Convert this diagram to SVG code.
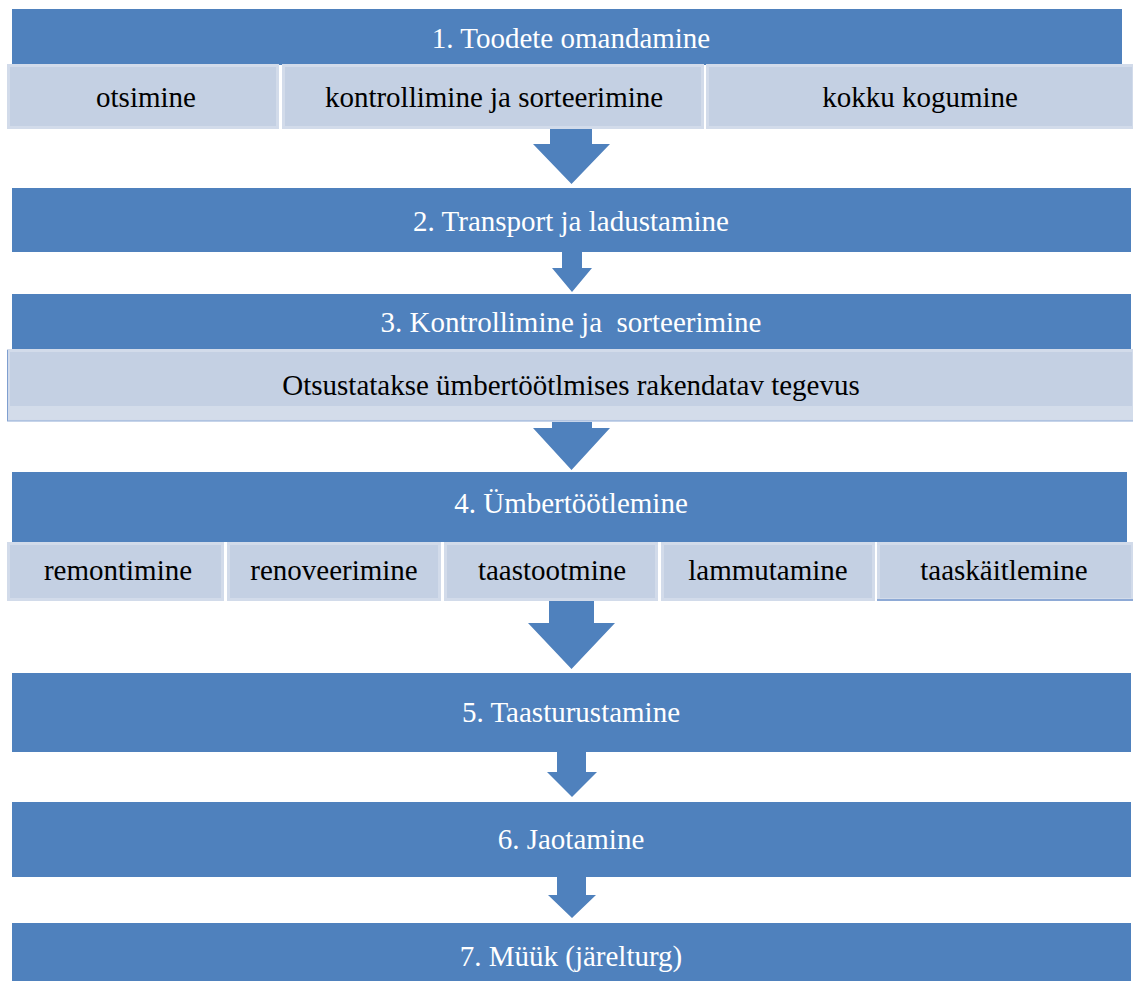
<svg xmlns="http://www.w3.org/2000/svg" width="1133" height="981" viewBox="0 0 1133 981">
<style>
.bar{fill:#4f81bd}
.sub{fill:#c4d0e3;stroke:#d2dbea;stroke-width:3}
.arr{fill:#4f81bd}
text{font-family:"Liberation Serif","Times New Roman",serif;font-size:29px;text-anchor:middle}
.w{fill:#ffffff}
.k{fill:#000000}
</style>
<rect width="1133" height="981" fill="#ffffff"/>
<g id="step1">
<rect class="bar" x="12" y="9" width="1110" height="56"/>
<text class="w" x="571" y="48">1. Toodete omandamine</text>
</g>
<g id="step1-sub">
<rect class="sub" x="8.5" y="65.5" width="269" height="62"/>
<text class="k" x="146" y="107">otsimine</text>
<rect class="sub" x="283.5" y="65.5" width="419" height="62"/>
<text class="k" x="494" y="107">kontrollimine ja sorteerimine</text>
<rect class="sub" x="707.5" y="65.5" width="426" height="62"/>
<text class="k" x="920" y="107">kokku kogumine</text>
</g>
<g id="step2">
<rect class="bar" x="12" y="188" width="1119" height="64"/>
<text class="w" x="571" y="231">2. Transport ja ladustamine</text>
</g>
<g id="step3">
<rect class="bar" x="12" y="294" width="1119" height="56"/>
<text class="w" x="571" y="332" xml:space="preserve" style="white-space:pre">3. Kontrollimine ja  sorteerimine</text>
</g>
<g id="step3-sub">
<rect class="sub" x="8.5" y="350.5" width="1125" height="69"/>
<rect x="10" y="406" width="1123" height="13" fill="#d3dcea"/>
<line x1="7.5" y1="350" x2="7.5" y2="421" stroke="#7f9fd0" stroke-width="1"/>
<line x1="7" y1="421" x2="1133" y2="421" stroke="#8eaad6" stroke-width="1"/>
<text class="k" x="571" y="395">Otsustatakse ümbertöötlmises rakendatav tegevus</text>
</g>
<g id="step4">
<rect class="bar" x="12" y="472" width="1115" height="70"/>
<text class="w" x="571" y="513">4. Ümbertöötlemine</text>
</g>
<g id="step4-sub">
<rect class="sub" x="8.5" y="543.5" width="214" height="56"/>
<text class="k" x="118" y="580">remontimine</text>
<rect class="sub" x="228.5" y="543.5" width="211" height="56"/>
<text class="k" x="334" y="580">renoveerimine</text>
<rect class="sub" x="445.5" y="543.5" width="211" height="56"/>
<text class="k" x="552" y="580">taastootmine</text>
<rect class="sub" x="662.5" y="543.5" width="211" height="56"/>
<text class="k" x="768" y="580">lammutamine</text>
<rect class="sub" x="878.5" y="543.5" width="254" height="56"/>
<line x1="877" y1="600" x2="1133" y2="600" stroke="#8eaad6" stroke-width="2"/>
<text class="k" x="1004" y="580">taaskäitlemine</text>
</g>
<g id="step5">
<rect class="bar" x="12" y="673" width="1119" height="79"/>
<text class="w" x="571" y="722">5. Taasturustamine</text>
</g>
<g id="step6">
<rect class="bar" x="12" y="802" width="1119" height="75"/>
<text class="w" x="571" y="849">6. Jaotamine</text>
</g>
<g id="step7">
<rect class="bar" x="12" y="923" width="1119" height="58"/>
<text class="w" x="571" y="966">7. Müük (järelturg)</text>
</g>
<g id="connectors">
<polygon class="arr" points="550,129 592,129 592,144 610,144 571.5,184 533,144 550,144"/>
<polygon class="arr" points="562,252 582,252 582,268 592,268 572,292 552,268 562,268"/>
<polygon class="arr" points="552,422 592,422 592,428 610,428 571.5,470 533,428 552,428"/>
<polygon class="arr" points="549,601 594,601 594,623 615,623 571.5,669 528,623 549,623"/>
<polygon class="arr" points="557,752 586,752 586,772 597,772 572,797 547,772 557,772"/>
<polygon class="arr" points="557,877 586,877 586,895 596,895 572,918 548,895 557,895"/>
</g>
</svg>
